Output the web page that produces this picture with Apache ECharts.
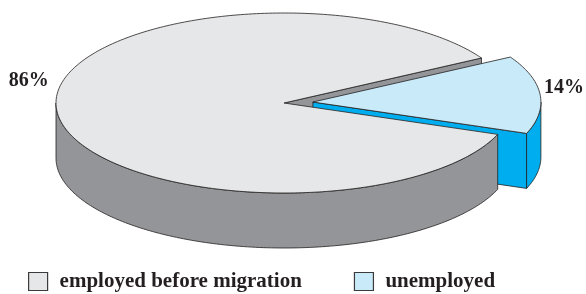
<!DOCTYPE html>
<html>
<head>
<meta charset="utf-8">
<script src="https://cdn.jsdelivr.net/npm/echarts@6/dist/echarts.min.js"></script>
<style>
html,body{margin:0;padding:0;background:#fff;}
#chart01{width:586px;height:294px;}
</style>
</head>
<body>
<div id="chart01"></div>
<script>
var categories = ['employed before migration', 'unemployed'];
var shares = [86, 14];
var shareLabels = ['86%', '14%'];

// colours of the top faces and of the walls
var topColors = ['#e6e7e8', '#c8eaf9'];
var sideColors = ['#939598', '#00aeef'];
var lineColor = '#231f20';
var serif = '"Liberation Serif", "Times New Roman", serif';

// ellipse of the pie, walls height
var cx = 284, cy = 103, rx = 228, ry = 90, depth = 55;
var startDeg = 30;
var explodeBy = [0, 29];
var labelShift = [[-8, -30], [4, -7]];

var total = shares.reduce(function (a, b) { return a + b; }, 0);

function sliceAngles(i) {
        var before = 0;
        for (var k = 0; k < i; k++) before += shares[k];
        var a0 = startDeg + 360 * before / total;
        var a1 = a0 + 360 * shares[i] / total;
        return [a0, a1];
}
function rim(c, deg, dz) {
        var r = deg * Math.PI / 180;
        return [c[0] + rx * Math.cos(r), c[1] - ry * Math.sin(r) + (dz || 0)];
}
function arc(c, a0, a1, dz) {
        var pts = [], n = Math.max(2, Math.ceil(Math.abs(a1 - a0)));
        for (var j = 0; j <= n; j++) pts.push(rim(c, a0 + (a1 - a0) * j / n, dz));
        return pts;
}
function maxY(pts) {
        var m = -1e9;
        pts.forEach(function (p) { if (p[1] > m) m = p[1]; });
        return m;
}

function renderSlice(params, api) {
        var i = params.seriesIndex;
        var ang = sliceAngles(i), a0 = ang[0], a1 = ang[1];
        var mid = (a0 + a1) / 2 * Math.PI / 180;
        var c = [cx + explodeBy[i] * Math.cos(mid), cy - explodeBy[i] * Math.sin(mid) * ry / rx];
        var kids = [];
        var faceStyle = function (fill) {
                return {fill: fill, stroke: lineColor, lineWidth: 0.8, lineJoin: 'round'};
        };

        // side walls cut along the radii
        [[a0, a0 - 90], [a1, a1 + 90]].forEach(function (e) {
                if (Math.sin(e[1] * Math.PI / 180) >= 0) return;
                var p = rim(c, e[0]);
                var pts = [c, p, [p[0], p[1] + depth], [c[0], c[1] + depth]];
                kids.push({type: 'polygon', shape: {points: pts}, style: faceStyle(sideColors[i]),
                        z2: Math.round(maxY([c, p]))});
        });

        // outer wall, front half only
        for (var k = -1; k <= 1; k++) {
                var lo = Math.max(a0, 180 + 360 * k), hi = Math.min(a1, 360 + 360 * k);
                if (lo >= hi) continue;
                var top = arc(c, lo, hi, 0);
                var bottom = arc(c, hi, lo, depth);
                kids.push({type: 'polygon', shape: {points: top.concat(bottom)}, style: faceStyle(sideColors[i]),
                        z2: Math.round(maxY(top))});
        }

        // top face
        kids.push({type: 'polygon', shape: {points: [c].concat(arc(c, a0, a1, 0))},
                style: faceStyle(topColors[i]), z2: 1000 + i});

        // percent label
        var lp = rim(c, (a0 + a1) / 2);
        kids.push({type: 'text', z2: 2000, style: {
                x: lp[0] + labelShift[i][0], y: lp[1] + labelShift[i][1],
                text: shareLabels[i],
                align: Math.cos(mid) < 0 ? 'right' : 'left', verticalAlign: 'middle',
                fontFamily: serif, fontWeight: 'bold', fontSize: 20, fill: lineColor
        }});
        return {type: 'group', children: kids};
}

var myChart = echarts.init(document.getElementById('chart01'));
var option = {
        animation: false,
        legend: {
                data: categories,
                left: 28,
                top: 271,
                padding: 0,
                icon: 'rect',
                itemWidth: 19,
                itemHeight: 18,
                itemGap: 52,
                itemStyle: {borderColor: '#3b3b3b', borderWidth: 1.2},
                textStyle: {
                        fontFamily: serif,
                        fontWeight: 'bold',
                        fontSize: 21,
                        color: lineColor,
                        padding: [0, 0, 0, 7]
                }
        },
        series: categories.map(function (name, i) {
                return {
                        name: name,
                        type: 'custom',
                        coordinateSystem: 'none',
                        itemStyle: {color: topColors[i]},
                        renderItem: renderSlice,
                        data: [[shares[i]]]
                };
        })
};
myChart.setOption(option);
</script>
</body>
</html>
